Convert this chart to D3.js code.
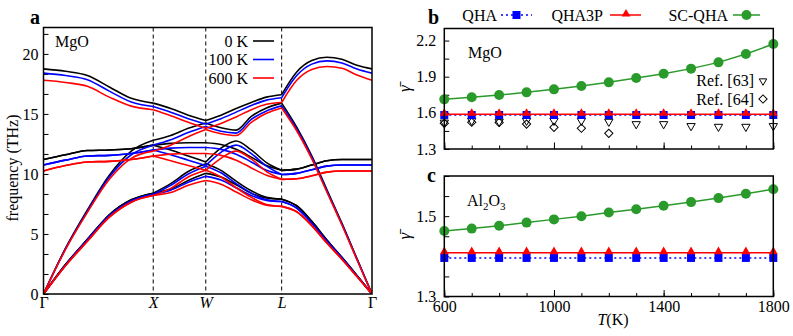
<!DOCTYPE html>
<html>
<head>
<meta charset="utf-8">
<script src="https://cdn.jsdelivr.net/npm/d3@7"></script>
<style>
body { margin: 0; background: #fff; }
</style>
</head>
<body>
<svg id="fig" width="793" height="336" font-family="'Liberation Serif', 'Times New Roman', Times, Tinos, 'DejaVu Serif', 'Noto Serif', serif"></svg>
<script>
// ---------- panel a : MgO phonon dispersion ----------
var symLabels = ["Γ", "X", "W", "L", "Γ"];
var symPos = [0, 0.334, 0.494, 0.725, 1];
// sample points along the path (fraction of path length)
var kPts = [0, 0.0668, 0.1336, 0.2004, 0.2672, 0.334,
            0.3873, 0.4407, 0.494,
            0.5402, 0.5864, 0.6326, 0.6788, 0.725,
            0.7708, 0.8167, 0.8625, 0.9083, 0.9542, 1];
var segs = [[0, 5], [5, 8], [8, 13], [13, 19]];

var bands0K = [
  [18.75,18.55,18.2,17.25,16.3,15.9, 15.45,14.9,14.45, 14.9,15.45,15.95,16.4,16.6, 18.5,19.45,19.72,19.55,19.05,18.75],
  [0,3.8,7.0,9.9,11.9,12.8, 13.2,13.8,14.25, 13.85,13.65,14.8,15.5,15.9, 13.9,11.5,8.7,5.9,2.95,0],
  [11.2,11.6,11.95,12.0,12.1,12.4, 12.55,12.6,12.6, 12.45,12.05,11.4,10.7,10.3, 10.4,10.75,11.1,11.2,11.2,11.2],
  [11.2,11.6,11.95,12.0,12.1,12.4, 12.0,11.5,11.0, 12.15,12.75,12.0,10.95,10.3, 10.4,10.75,11.1,11.2,11.2,11.2],
  [0,2.45,4.55,6.6,7.85,8.4, 9.2,10.2,10.85, 10.3,9.4,8.6,8.05,7.9, 7.35,6.05,4.5,3.05,1.55,0],
  [0,2.45,4.55,6.6,7.85,8.4, 8.75,9.45,10.05, 9.75,9.1,8.4,8.0,7.9, 7.35,6.05,4.5,3.05,1.55,0]
];
var bands100K = [
  [18.4,18.2,17.85,16.9,16.0,15.62, 15.15,14.6,14.15, 14.6,15.15,15.7,16.15,16.35, 18.2,19.15,19.42,19.25,18.75,18.4],
  [0,3.75,6.9,9.75,11.6,12.4, 12.85,13.45,13.95, 13.55,13.4,14.55,15.25,15.67, 13.75,11.4,8.6,5.85,2.9,0],
  [10.75,11.15,11.5,11.55,11.7,12.0, 12.15,12.2,12.2, 12.05,11.65,11.0,10.3,9.95, 10.05,10.35,10.65,10.75,10.75,10.75],
  [10.75,11.15,11.5,11.55,11.7,12.0, 11.6,11.15,10.7, 11.8,12.4,11.7,10.65,9.95, 10.05,10.35,10.65,10.75,10.75,10.75],
  [0,2.4,4.5,6.5,7.75,8.3, 9.05,10.0,10.65, 10.1,9.2,8.4,7.85,7.7, 7.15,5.9,4.4,3.0,1.5,0],
  [0,2.4,4.5,6.5,7.75,8.3, 8.65,9.3,9.8, 9.5,8.85,8.2,7.8,7.7, 7.15,5.9,4.4,3.0,1.5,0]
];
var bands600K = [
  [17.8,17.62,17.3,16.4,15.65,15.35, 14.85,14.3,13.8, 14.2,14.75,15.35,15.8,15.95, 17.8,18.7,18.95,18.8,18.25,17.8],
  [0,3.7,6.8,9.55,11.3,11.9, 12.4,13.1,13.7, 13.35,13.2,14.3,15.05,15.5, 13.6,11.25,8.5,5.75,2.85,0],
  [10.25,10.7,11.0,11.05,11.2,11.5, 11.65,11.7,11.7, 11.55,11.15,10.5,9.9,9.55, 9.6,9.85,10.15,10.25,10.25,10.25],
  [10.25,10.7,11.0,11.05,11.2,11.5, 11.1,10.7,10.3, 11.3,11.9,11.25,10.2,9.55, 9.6,9.85,10.15,10.25,10.25,10.25],
  [0,2.35,4.4,6.4,7.65,8.2, 8.8,9.75,10.3, 9.75,8.85,8.05,7.45,7.3, 6.85,5.7,4.25,2.9,1.45,0],
  [0,2.35,4.4,6.4,7.65,8.2, 8.45,9.05,9.45, 9.15,8.5,7.85,7.4,7.3, 6.85,5.7,4.25,2.9,1.45,0]
];
var tempLabels = ["0 K", "100 K", "600 K"];

// ---------- panels b, c : thermal Gruneisen parameter ----------
var temps = [600, 700, 800, 900, 1000, 1100, 1200, 1300, 1400, 1500, 1600, 1700, 1800];
var mgoQHA   = [1.582,1.582,1.582,1.582,1.582,1.582,1.582,1.582,1.582,1.582,1.582,1.582,1.582];
var mgoQHA3P = [1.588,1.588,1.588,1.588,1.588,1.588,1.588,1.588,1.588,1.588,1.588,1.588,1.588];
var mgoSCQHA = [1.712,1.729,1.748,1.770,1.795,1.823,1.853,1.889,1.925,1.967,2.019,2.088,2.171];
var mgoRef63 = [1.52,1.535,1.527,1.535,1.535,1.535,1.527,1.507,1.507,1.491,1.485,1.485,1.491];
var ref64T = [600, 700, 800, 900, 1000, 1100, 1200];
var mgoRef64 = [1.513,1.522,1.52,1.507,1.48,1.472,1.43];
var alQHA   = [1.396,1.396,1.396,1.396,1.396,1.396,1.396,1.396,1.396,1.396,1.396,1.396,1.396];
var alQHA3P = [1.409,1.409,1.409,1.409,1.409,1.409,1.409,1.409,1.409,1.409,1.409,1.409,1.409];
var alSCQHA = [1.463,1.469,1.476,1.484,1.492,1.500,1.509,1.517,1.526,1.535,1.545,1.556,1.567];
var seriesNames = ["QHA", "QHA3P", "SC-QHA"];

var tempColors = ["#000000", "#0000ff", "#ff0000"];
var blue = "#0000ff", red = "#ff0000", green = "#2a9a2a";

var svg = d3.select("#fig");

function styleAxis(g, size) {
  g.attr("font-family", null).attr("font-size", size);
  g.select(".domain").remove();
  g.selectAll(".tick line").attr("stroke", "#000").attr("stroke-width", 1);
  g.selectAll(".tick text").attr("fill", "#000");
}

// ===== panel a =====
var A = {l: 43.5, r: 372, t: 27.5, b: 294};
var xa = d3.scaleLinear().domain([0, 1]).range([A.l, A.r]);
var ya = d3.scaleLinear().domain([0, 22.2]).range([A.b, A.t]);

svg.append("clipPath").attr("id", "clipA")
  .append("rect").attr("x", A.l).attr("y", A.t).attr("width", A.r - A.l).attr("height", A.b - A.t);

svg.append("g").attr("transform", "translate(" + A.l + ",0)")
  .call(d3.axisLeft(ya).tickValues(d3.range(0, 22, 5 / 3)).tickSizeInner(-5).tickSizeOuter(0).tickPadding(5)
    .tickFormat(function(d, i) { return i % 3 === 0 ? Math.round(d) : ""; }))
  .call(styleAxis, 16);

var gx = svg.append("g").attr("transform", "translate(0," + A.b + ")")
  .call(d3.axisBottom(xa).tickValues(symPos).tickSize(0).tickPadding(3)
    .tickFormat(function(d, i) { return symLabels[i]; }))
  .call(styleAxis, 16);
gx.selectAll(".tick text").attr("font-style", function(d, i) { return (i > 0 && i < 4) ? "italic" : "normal"; });

// dashed lines at X, W, L
svg.append("g").selectAll("line").data(symPos.slice(1, 4)).join("line")
  .attr("x1", function(d) { return xa(d); }).attr("x2", function(d) { return xa(d); })
  .attr("y1", A.t).attr("y2", A.b)
  .attr("stroke", "#000").attr("stroke-width", 1).attr("stroke-dasharray", "4,3");

var bandLine = d3.line()
  .x(function(d) { return xa(d[0]); })
  .y(function(d) { return ya(d[1]); })
  .curve(d3.curveMonotoneX);

var bandSets = [bands0K, bands100K, bands600K];
var gBands = svg.append("g").attr("clip-path", "url(#clipA)");
bandSets.forEach(function(set, ti) {
  set.forEach(function(band) {
    segs.forEach(function(s) {
      var pts = [];
      for (var i = s[0]; i <= s[1]; i++) pts.push([kPts[i], band[i]]);
      gBands.append("path").attr("d", bandLine(pts))
        .attr("fill", "none").attr("stroke", tempColors[ti]).attr("stroke-width", 1.6);
    });
  });
});

svg.append("rect").attr("x", A.l).attr("y", A.t).attr("width", A.r - A.l).attr("height", A.b - A.t)
  .attr("fill", "none").attr("stroke", "#000").attr("stroke-width", 1.5);

// legend a
var legA = svg.append("g");
tempLabels.forEach(function(t, i) {
  var yy = [41, 59.5, 78][i];
  legA.append("text").attr("x", 248).attr("y", yy + 5.5).attr("text-anchor", "end").attr("font-size", 16).text(t);
  legA.append("line").attr("x1", 253).attr("x2", 274).attr("y1", yy).attr("y2", yy)
    .attr("stroke", tempColors[i]).attr("stroke-width", 1.6);
});
svg.append("text").attr("x", 55).attr("y", 47).attr("font-size", 16).text("MgO");
svg.append("text").attr("x", 30).attr("y", 24).attr("font-size", 20).attr("font-weight", "bold").text("a");
svg.append("text").attr("transform", "translate(18,168) rotate(-90)").attr("text-anchor", "middle")
  .attr("font-size", 16).text("frequency (THz)");

// ===== panels b and c =====
var B = {l: 444.3, r: 773.3, t: 28.5, b: 149};
var C = {l: 444.3, r: 773.3, t: 176, b: 296.5};
var xT = d3.scaleLinear().domain([600, 1800]).range([B.l, B.r]);
var yb = d3.scaleLinear().domain([1.3, 2.3]).range([B.b, B.t]);
var yc = d3.scaleLinear().domain([1.3, 1.6]).range([C.b, C.t]);

function xTicks(box, labels) {
  var g = svg.append("g").attr("transform", "translate(0," + box.b + ")");
  g.call(d3.axisBottom(xT).tickValues(d3.range(600, 1801, 100)).tickSizeInner(-3.5).tickSizeOuter(0).tickFormat(""))
    .call(styleAxis, 16);
  var g2 = svg.append("g").attr("transform", "translate(0," + box.b + ")");
  g2.call(d3.axisBottom(xT).tickValues([600, 1000, 1400, 1800]).tickSizeInner(-6.5).tickSizeOuter(0).tickPadding(4)
    .tickFormat(labels ? d3.format("d") : ""))
    .call(styleAxis, 16);
}

function panel(box, y, tickVals, labelEvery, qha, qha3p, scqha) {
  svg.append("g").attr("transform", "translate(" + box.l + ",0)")
    .call(d3.axisLeft(y).tickValues(tickVals).tickSizeInner(-5).tickSizeOuter(0).tickPadding(8)
      .tickFormat(function(d, i) { return i % labelEvery === 0 ? d3.format(".1f")(d) : ""; }))
    .call(styleAxis, 16);

  var line = d3.line().x(function(d) { return xT(d[0]); }).y(function(d) { return y(d[1]); });
  var g = svg.append("g");
  g.append("path").attr("d", line(d3.zip(temps, qha))).attr("fill", "none")
    .attr("stroke", blue).attr("stroke-width", 1.5).attr("stroke-dasharray", "2,3");
  g.selectAll(".sq").data(d3.zip(temps, qha)).join("path")
    .attr("transform", function(d) { return "translate(" + xT(d[0]) + "," + y(d[1]) + ")"; })
    .attr("d", d3.symbol(d3.symbolSquare, 64)).attr("fill", blue);
  g.append("path").attr("d", line(d3.zip(temps, qha3p))).attr("fill", "none")
    .attr("stroke", red).attr("stroke-width", 1.5);
  g.selectAll(".tr").data(d3.zip(temps, qha3p)).join("path")
    .attr("transform", function(d) { return "translate(" + xT(d[0]) + "," + (y(d[1]) - 1) + ")"; })
    .attr("d", d3.symbol(d3.symbolTriangle, 34)).attr("fill", red);
  g.append("path").attr("d", line(d3.zip(temps, scqha))).attr("fill", "none")
    .attr("stroke", green).attr("stroke-width", 1.5);
  g.selectAll("circle").data(d3.zip(temps, scqha)).join("circle")
    .attr("cx", function(d) { return xT(d[0]); }).attr("cy", function(d) { return y(d[1]); })
    .attr("r", 5).attr("fill", green);

  svg.append("rect").attr("x", box.l).attr("y", box.t).attr("width", box.r - box.l).attr("height", box.b - box.t)
    .attr("fill", "none").attr("stroke", "#000").attr("stroke-width", 1.5);

  svg.append("text").attr("transform", "translate(410," + ((box.t + box.b) / 2) + ") rotate(-90)")
    .attr("text-anchor", "middle").attr("font-size", 17).attr("font-style", "italic").text("\u03B3\u0304");
  return g;
}

// refs drawn under the model curves in b
var gRef = svg.append("g");
gRef.selectAll(".r63").data(d3.zip(temps, mgoRef63)).join("path")
  .attr("transform", function(d) { return "translate(" + xT(d[0]) + "," + yb(d[1]) + ") rotate(180)"; })
  .attr("d", d3.symbol(d3.symbolTriangle, 30)).attr("fill", "none").attr("stroke", "#000").attr("stroke-width", 1);
gRef.selectAll(".r64").data(d3.zip(ref64T, mgoRef64)).join("path")
  .attr("transform", function(d) { return "translate(" + xT(d[0]) + "," + yb(d[1]) + ") rotate(45)"; })
  .attr("d", d3.symbol(d3.symbolSquare, 34)).attr("fill", "none").attr("stroke", "#000").attr("stroke-width", 1);

xTicks(B, false);
panel(B, yb, d3.range(1.3, 2.31, 0.15), 2, mgoQHA, mgoQHA3P, mgoSCQHA);
xTicks(C, true);
panel(C, yc, d3.range(1.3, 1.601, 0.05), 4, alQHA, alQHA3P, alSCQHA);

svg.append("text").attr("x", 428).attr("y", 24).attr("font-size", 20).attr("font-weight", "bold").text("b");
svg.append("text").attr("x", 427).attr("y", 182).attr("font-size", 20).attr("font-weight", "bold").text("c");
svg.append("text").attr("x", 468).attr("y", 58).attr("font-size", 16).text("MgO");
var al = svg.append("text").attr("x", 467).attr("y", 206).attr("font-size", 16);
al.append("tspan").text("Al");
al.append("tspan").attr("font-size", 11).attr("dy", 4).text("2");
al.append("tspan").attr("dy", -4).text("O");
al.append("tspan").attr("font-size", 11).attr("dy", 4).text("3");

// ref key
svg.append("text").attr("x", 754).attr("y", 86).attr("text-anchor", "end").attr("font-size", 16).text("Ref. [63]");
svg.append("path").attr("transform", "translate(763,81) rotate(180)")
  .attr("d", d3.symbol(d3.symbolTriangle, 24)).attr("fill", "none").attr("stroke", "#000").attr("stroke-width", 1);
svg.append("text").attr("x", 754).attr("y", 105).attr("text-anchor", "end").attr("font-size", 16).text("Ref. [64]");
svg.append("path").attr("transform", "translate(763,99) rotate(45)")
  .attr("d", d3.symbol(d3.symbolSquare, 34)).attr("fill", "none").attr("stroke", "#000").attr("stroke-width", 1);

// T(K) label
var tl = svg.append("text").attr("x", 613).attr("y", 325).attr("text-anchor", "middle").attr("font-size", 16);
tl.append("tspan").attr("font-style", "italic").text("T");
tl.append("tspan").text("(K)");

// top legend
var legB = svg.append("g");
var legY = 15;
legB.append("text").attr("x", 497).attr("y", legY + 5.5).attr("text-anchor", "end").attr("font-size", 16).text(seriesNames[0]);
legB.append("line").attr("x1", 501).attr("x2", 532).attr("y1", legY).attr("y2", legY)
  .attr("stroke", blue).attr("stroke-width", 1.5).attr("stroke-dasharray", "2,3");
legB.append("path").attr("transform", "translate(516.5," + legY + ")").attr("d", d3.symbol(d3.symbolSquare, 64)).attr("fill", blue);
legB.append("text").attr("x", 603).attr("y", legY + 5.5).attr("text-anchor", "end").attr("font-size", 16).text(seriesNames[1]);
legB.append("line").attr("x1", 610).attr("x2", 641).attr("y1", legY).attr("y2", legY)
  .attr("stroke", red).attr("stroke-width", 1.5);
legB.append("path").attr("transform", "translate(626," + (legY - 1) + ")").attr("d", d3.symbol(d3.symbolTriangle, 34)).attr("fill", red);
legB.append("text").attr("x", 728).attr("y", legY + 5.5).attr("text-anchor", "end").attr("font-size", 16).text(seriesNames[2]);
legB.append("line").attr("x1", 733).attr("x2", 760).attr("y1", legY).attr("y2", legY)
  .attr("stroke", green).attr("stroke-width", 1.5);
legB.append("circle").attr("cx", 746.5).attr("cy", legY).attr("r", 5).attr("fill", green);
</script>
</body>
</html>
